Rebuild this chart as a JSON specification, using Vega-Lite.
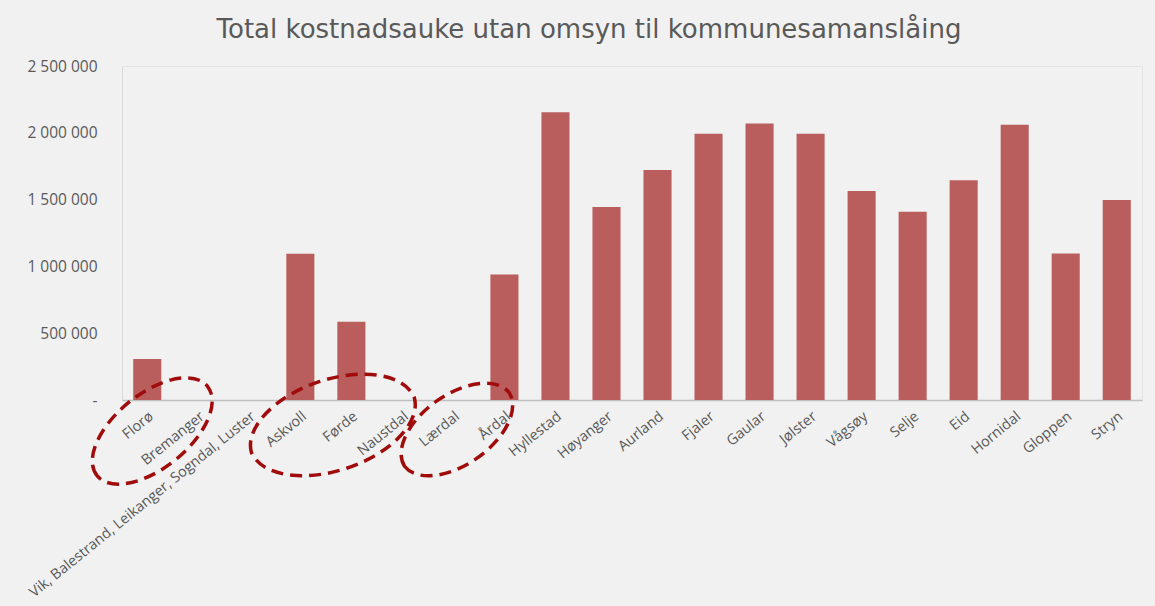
{
  "$schema": "https://vega.github.io/schema/vega-lite/v6.json",
  "width": 1020,
  "height": 334,
  "autosize": {"type": "none"},
  "padding": {"left": 122, "top": 66, "right": 13, "bottom": 206},
  "background": "#f1f1f1",
  "title": {
    "text": "Total kostnadsauke utan omsyn til kommunesamanslåing",
    "font": "DejaVu Sans",
    "fontSize": 26,
    "fontWeight": "normal",
    "color": "#595959",
    "anchor": "middle",
    "dx": -43,
    "offset": -5,
    "baseline": "alphabetic"
  },
  "datasets": {
    "kostnad": [
      {"kommune": "Florø", "kostnad": 307000},
      {"kommune": "Bremanger", "kostnad": 0},
      {"kommune": "Vik, Balestrand, Leikanger, Sogndal, Luster", "kostnad": 0},
      {"kommune": "Askvoll", "kostnad": 1094000},
      {"kommune": "Førde", "kostnad": 585000},
      {"kommune": "Naustdal", "kostnad": 0},
      {"kommune": "Lærdal", "kostnad": 0},
      {"kommune": "Årdal", "kostnad": 939000},
      {"kommune": "Hyllestad", "kostnad": 2154000},
      {"kommune": "Høyanger", "kostnad": 1445000},
      {"kommune": "Aurland", "kostnad": 1722000},
      {"kommune": "Fjaler", "kostnad": 1992000},
      {"kommune": "Gaular", "kostnad": 2069000},
      {"kommune": "Jølster", "kostnad": 1992000},
      {"kommune": "Vågsøy", "kostnad": 1564000},
      {"kommune": "Selje", "kostnad": 1409000},
      {"kommune": "Eid", "kostnad": 1644000},
      {"kommune": "Hornidal", "kostnad": 2061000},
      {"kommune": "Gloppen", "kostnad": 1097000},
      {"kommune": "Stryn", "kostnad": 1497000}
    ],
    "ellipser": [
      {"kommune": "Florø", "posisjon": -232000, "gruppe": "A"},
      {"kommune": "Førde", "posisjon": -187000, "gruppe": "B"},
      {"kommune": "Lærdal", "posisjon": -221000, "gruppe": "C"}
    ]
  },
  "config": {
    "view": {"stroke": "#e4e4e4", "fill": "#f1f1f1"},
    "axis": {"labelFont": "Open Sans", "labelColor": "#595959", "grid": false, "ticks": false}
  },
  "layer": [
    {
      "data": {"name": "kostnad"},
      "mark": {"type": "bar", "color": "#b95d5d"},
      "encoding": {
        "x": {
          "field": "kommune",
          "type": "nominal",
          "sort": null,
          "scale": {
            "domain": ["Florø", "Bremanger", "Vik, Balestrand, Leikanger, Sogndal, Luster", "Askvoll", "Førde", "Naustdal", "Lærdal", "Årdal", "Hyllestad", "Høyanger", "Aurland", "Fjaler", "Gaular", "Jølster", "Vågsøy", "Selje", "Eid", "Hornidal", "Gloppen", "Stryn"],
            "paddingInner": 0.45,
            "paddingOuter": 0.22
          },
          "axis": {
            "title": null,
            "labelAngle": -39,
            "labelAlign": "right",
            "labelBaseline": "top",
            "labelFontSize": 14.5,
            "labelPadding": 9,
            "labelLimit": 500,
            "domainColor": "#bfbfbf",
            "domainWidth": 1.5
          }
        },
        "y": {
          "field": "kostnad",
          "type": "quantitative",
          "scale": {"domain": [0, 2500000], "nice": false},
          "axis": {
            "title": null,
            "values": [0, 500000, 1000000, 1500000, 2000000, 2500000],
            "labelExpr": "datum.value == 0 ? '-' : replace(replace(format(datum.value, ','), ',', ' '), ',', ' ')",
            "labelFontSize": 15.5,
            "labelPadding": 25,
            "domainColor": "#d9d9d9"
          }
        }
      }
    },
    {
      "data": {"name": "ellipser"},
      "mark": {"type": "point", "filled": false, "size": 400, "stroke": "#a00c0c", "strokeWidth": 3.5, "strokeDash": [12, 7], "opacity": 1},
      "encoding": {
        "x": {"field": "kommune", "type": "nominal", "sort": null},
        "y": {"field": "posisjon", "type": "quantitative"},
        "shape": {
          "field": "gruppe",
          "type": "nominal",
          "scale": {
            "domain": ["A", "B", "C"],
            "range": [
              "M -5.02 4.47 A 7.1 3.7 -39 0 1 6.02 -4.47 A 7.1 3.7 -39 0 1 -5.02 4.47 Z",
              "M -10 2.73 A 8.6 4.7 -18.5 0 1 6.3 -2.73 A 8.6 4.7 -18.5 0 1 -10 2.73 Z",
              "M -4.89 3.67 A 6.4 3.6 -35 0 1 5.59 -3.67 A 6.4 3.6 -35 0 1 -4.89 3.67 Z"
            ]
          },
          "legend": null
        }
      }
    }
  ]
}
